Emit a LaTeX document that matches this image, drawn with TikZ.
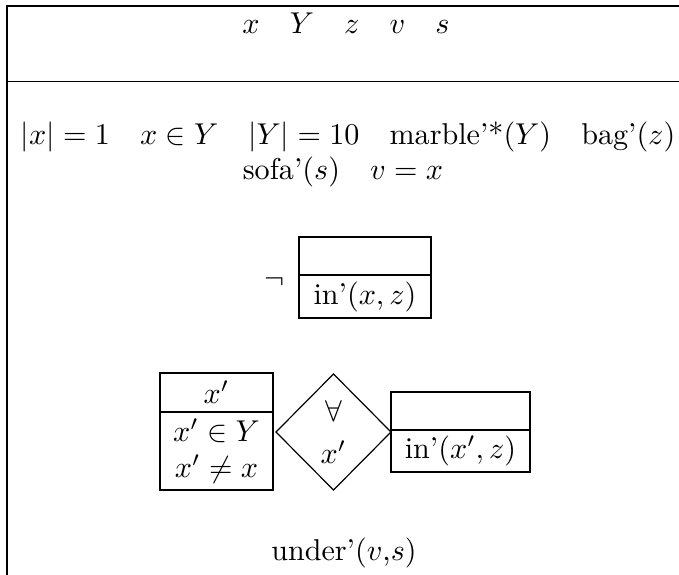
\documentclass[tikz,border=0pt]{standalone}
\usepackage{amsmath,amssymb}
\usetikzlibrary{positioning,shapes.geometric}

\newcommand\pxl{0.332pt}

\begin{document}
\begin{tikzpicture}[
x=\pxl, y=-\pxl,
univ/.style={draw, outer sep=0pt, inner sep=0pt, align=center},
cond/.style={draw, outer sep=0pt, inner sep=0pt, align=center},
quant/.style={draw, diamond, outer sep=0pt, inner sep=0pt, align=center, minimum width=115*\pxl, minimum height=116*\pxl}
]
\useasboundingbox (0,0) rectangle (679,575);
% outer box
\draw (679,6) -- (7,6) -- (7,575);
\draw (7,81.7) -- (679,81.7);
\node[anchor=base] (refs) at (346,33) {$x$\quad $Y$\quad $z$\quad $v$\quad $s$};
\node[anchor=base] (cond1) at (348,144) {$|x| = 1$\quad $x \in Y$\quad $|Y| = 10$\quad marble'*$(Y)$\quad bag'$(z)$};
\node[anchor=base] (cond2) at (343,179) {sofa'$(s)$\quad $v = x$};
% negation
\node (neg) at (275,282) {$\neg$};
\node[univ, minimum width=132*\pxl, minimum height=38*\pxl] (nu) at (365,256) {};
\node[cond, below=0pt of nu, minimum width=132*\pxl, minimum height=43*\pxl] (nc) {in'$(x, z)$};
% duplex condition
\node[quant] (all) at (333.5,432) {$\forall$\\[2pt]$x'$};
\node[univ, minimum width=113*\pxl, minimum height=39*\pxl] (lu) at (216.5,392.5) {$x'$};
\node[cond, below=0pt of lu, minimum width=113*\pxl, minimum height=78*\pxl] (lc) {$x' \in Y$\\$x' \neq x$};
\node[univ, minimum width=139*\pxl, minimum height=38*\pxl] (ru) at (460.5,411) {};
\node[cond, below=0pt of ru, minimum width=139*\pxl, minimum height=42*\pxl] (rc) {in'$(x', z)$};
\node (under) at (344,553) {under'($v$,$s$)};
\end{tikzpicture}
\end{document}
